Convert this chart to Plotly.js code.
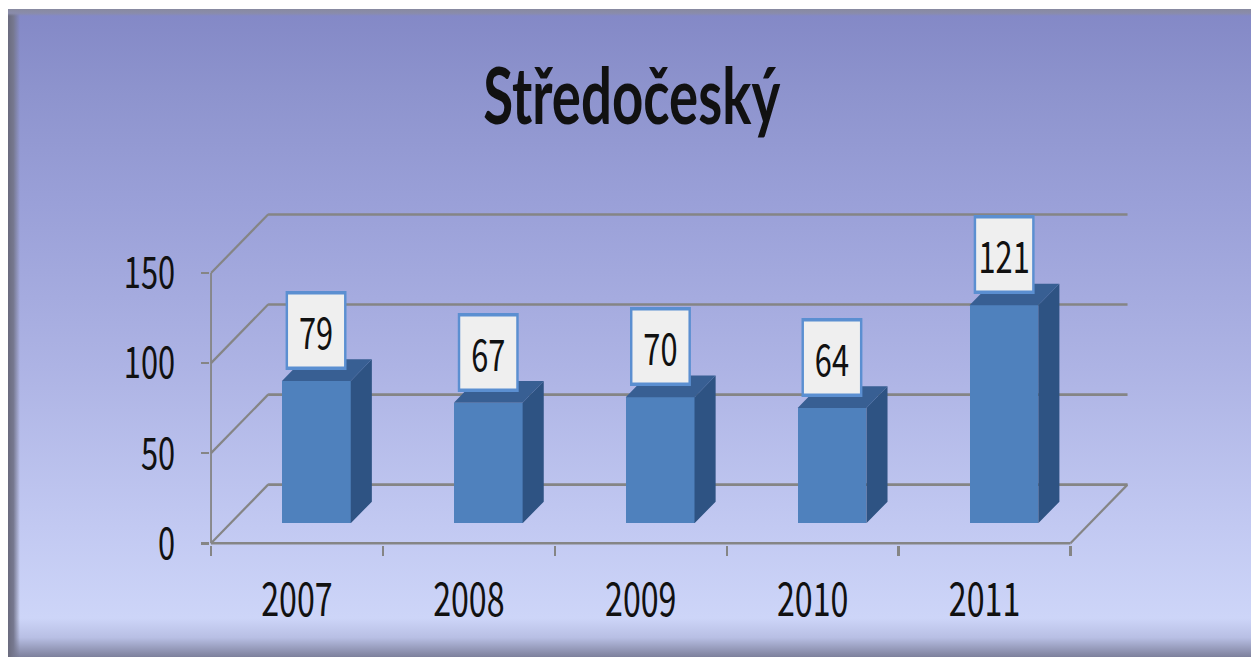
<!DOCTYPE html>
<html>
<head>
<meta charset="utf-8">
<script src="https://cdn.plot.ly/plotly-3.0.1.min.js"></script>
<style>
  html, body { margin:0; padding:0; width:1251px; height:657px; overflow:hidden; background:#ffffff; }
  #frame { position:absolute; left:8px; top:9px; width:1243px; height:648px;
    background: linear-gradient(to bottom, #8388c6 0%, #8d93cd 12%, #9aa0d8 30%, #adb3e4 55%, #c2c9f2 80%, #cdd5f8 94%, #b8bfe4 97%, #7d809c 100%); }
  #lb { position:absolute; left:8px; top:9px; width:12px; height:648px;
    background: linear-gradient(to right, #6a6b7e 0%, #76788f 45%, rgba(130,135,190,0) 100%); }
  #tb { position:absolute; left:8px; top:9px; width:1243px; height:7px;
    background: linear-gradient(to bottom, #888aa0 0%, #8a8cab 60%, rgba(130,135,200,0) 100%); }
  #wrap { position:absolute; left:0; top:0; width:1251px; height:657px; overflow:hidden; }
  #chart { position:absolute; left:0; top:0; width:1787px; height:657px;
    transform: scaleX(0.7); transform-origin: 0 0; }
</style>
</head>
<body>
<div id="frame"></div>
<div id="lb"></div>
<div id="tb"></div>
<div id="wrap"><div id="chart"></div></div>
<script>
// ---- data ----
const years = ['2007', '2008', '2009', '2010', '2011'];
const values = [79, 67, 70, 64, 121];
const yTickVals = [0, 50, 100, 150];
const yTickText = ['0', '50', '100', '150'];
const chartTitle = 'Středočeský';

// ---- 3D projection styling ----
const DX = 0.332, DY = 32.5;      // full depth offset (x in category units, y in value units)
const F0 = 0.34, F1 = 0.71;       // bar front / back depth fractions
const BW = 0.40;                  // bar width
const FONT = '"Noto Sans CJK JP", "Source Sans Pro", Lato, sans-serif';
const TITLE_FONT = 'Lato, "Open Sans", sans-serif';
const GRID = '#858585';

const idx = years.map((_, i) => i);
const xMin = -0.5, xMax = years.length - 0.5;
const yMaxTick = yTickVals[yTickVals.length - 1];
const b0 = F0 * DY, ddx = (F1 - F0) * DX, ddy = (F1 - F0) * DY;
const cx = idx.map(i => i + F0 * DX);

// front faces
const front = {
  type: 'bar', x: cx, y: values, base: idx.map(() => b0), width: BW,
  marker: { color: '#4f81bd', line: { width: 0 } },
  hoverinfo: 'skip', showlegend: false, xaxis: 'x', yaxis: 'y'
};
// side and top faces
const sx = [], sy = [], tx = [], ty = [];
idx.forEach(i => {
  const xl = cx[i] - BW / 2, xr = cx[i] + BW / 2, top = b0 + values[i];
  sx.push(xr, xr, xr + ddx, xr + ddx, xr, null);
  sy.push(b0, top, top + ddy, b0 + ddy, b0, null);
  tx.push(xl, xr, xr + ddx, xl + ddx, xl, null);
  ty.push(top, top, top + ddy, top + ddy, top, null);
});
const side = { type: 'scatter', x: sx, y: sy, mode: 'lines', fill: 'toself', fillcolor: '#2e5383',
  line: { width: 0, color: '#2e5383' }, hoverinfo: 'skip', showlegend: false };
const topF = { type: 'scatter', x: tx, y: ty, mode: 'lines', fill: 'toself', fillcolor: '#385f93',
  line: { width: 0, color: '#385f93' }, hoverinfo: 'skip', showlegend: false };
// invisible trace carrying the boundary-tick axis
const tickCarrier = { type: 'scatter', x: [xMin], y: [0], mode: 'markers', marker: { opacity: 0 },
  xaxis: 'x2', yaxis: 'y', hoverinfo: 'skip', showlegend: false };

// wall / floor lines
const shapes = [];
const ln = (x0, y0, x1, y1) => shapes.push({ type: 'line', xref: 'x', yref: 'y', x0, y0, x1, y1,
  layer: 'below', line: { color: GRID, width: 2.6 } });
yTickVals.forEach(v => {
  ln(xMin + DX, v + DY, xMax + DX, v + DY);
  ln(xMin, v, xMin + DX, v + DY);
});
ln(xMax, 0, xMax + DX, DY);
ln(xMin, 0, xMin, yMaxTick);
ln(xMin, 0, xMax, 0);

// data labels
const annotations = idx.map(i => ({
  xref: 'x', yref: 'y', x: cx[i], y: b0 + values[i], yanchor: 'bottom', yshift: 11,
  text: String(values[i]), showarrow: false,
  font: { family: FONT, size: 44, color: '#111111' },
  bgcolor: '#efefef', bordercolor: '#5b8fd1', borderwidth: 3.5, borderpad: 2,
  width: 76, height: 68
}));

const layout = {
  width: 1787, height: 657,
  margin: { l: 299, r: 135, t: 201, b: 112, pad: 0 },
  paper_bgcolor: 'rgba(0,0,0,0)', plot_bgcolor: 'rgba(0,0,0,0)',
  showlegend: false,
  title: { text: chartTitle, x: 0.505, xref: 'container', xanchor: 'center',
    y: 0.853, yref: 'container', yanchor: 'middle',
    font: { family: TITLE_FONT, size: 78, color: '#111111', weight: 'bold' } },
  xaxis: { range: [xMin - 0.01, xMax + 0.5], tickvals: idx, ticktext: years, ticks: '',
    showgrid: false, zeroline: false, showline: false, ticklabelstandoff: 24,
    tickfont: { family: FONT, size: 46, color: '#111111' }, fixedrange: true },
  xaxis2: { overlaying: 'x', range: [xMin - 0.01, xMax + 0.5], anchor: 'y', side: 'bottom',
    tickvals: idx.map(i => i - 0.5).concat([xMax]), ticks: 'outside', ticklen: 10, tickwidth: 3.2,
    tickcolor: GRID, showticklabels: false, showgrid: false, zeroline: false, showline: false },
  yaxis: { range: [-1, 190], tickvals: yTickVals, ticktext: yTickText, ticks: 'outside', ticklen: 11,
    tickwidth: 2.6, tickcolor: GRID, showgrid: false, zeroline: false, showline: false,
    ticklabelstandoff: 28, tickfont: { family: FONT, size: 44, color: '#111111' }, fixedrange: true },
  bargap: 0,
  shapes: shapes,
  annotations: annotations
};

Plotly.newPlot('chart', [front, side, topF, tickCarrier], layout, { staticPlot: true, displayModeBar: false });
</script>
</body>
</html>
